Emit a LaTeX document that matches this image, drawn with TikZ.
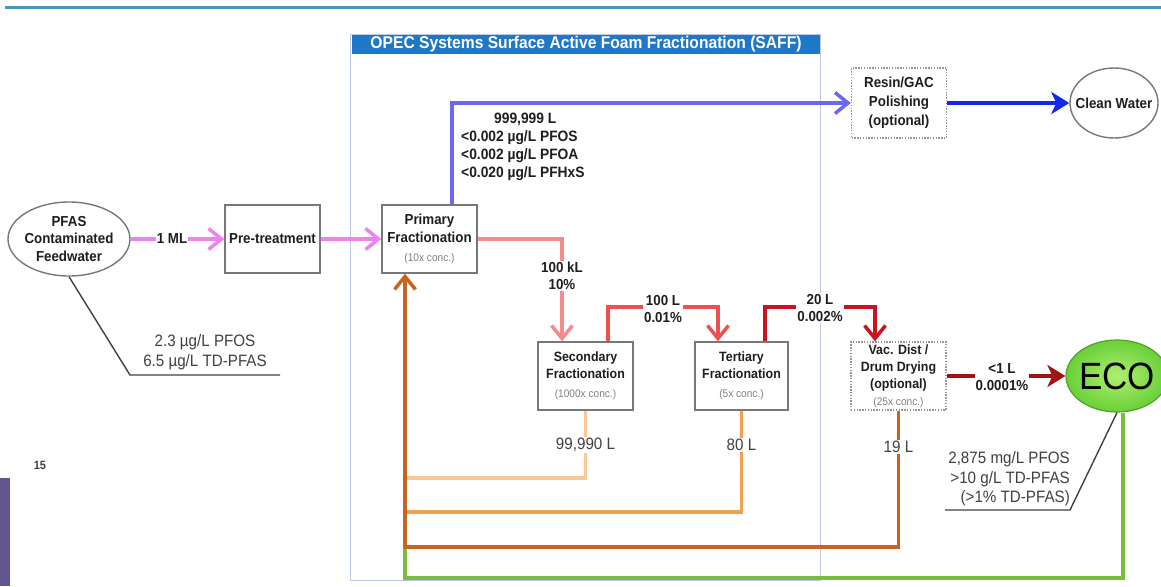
\documentclass[tikz,border=0pt]{standalone}
\usepackage{fontspec}
\setmainfont{Liberation Sans}[FakeStretch=0.92]
\usetikzlibrary{arrows.meta,shapes.geometric,calc}

\definecolor{pinkc}{RGB}{238,130,238}
\definecolor{blueA}{RGB}{105,105,240}
\definecolor{blueB}{RGB}{20,40,230}
\definecolor{salmonc}{RGB}{245,140,140}
\definecolor{redA}{RGB}{238,80,80}
\definecolor{redB}{RGB}{200,20,30}
\definecolor{maroonc}{RGB}{160,20,20}
\definecolor{peachc}{RGB}{250,200,150}
\definecolor{orangeA}{RGB}{240,160,80}
\definecolor{orangeB}{RGB}{200,100,30}
\definecolor{greenA}{RGB}{120,190,60}
\definecolor{ecoin}{RGB}{175,238,115}
\definecolor{ecoout}{RGB}{105,208,55}
\definecolor{ecoline}{RGB}{80,160,40}
\definecolor{titleblue}{RGB}{30,120,200}
\definecolor{frameblue}{RGB}{190,200,230}
\definecolor{tealline}{RGB}{70,150,190}
\definecolor{purplebar}{RGB}{98,84,140}
\definecolor{boxgray}{RGB}{120,120,120}
\definecolor{dotgray}{RGB}{150,150,150}
\definecolor{txtc}{RGB}{30,30,30}
\definecolor{regc}{RGB}{65,65,65}

\newcommand\fBold{\fontsize{14.5}{17.5}\selectfont\bfseries}
\newcommand\fBoxS{\fontsize{13.5}{17}\selectfont\bfseries}
\newcommand\fReg{\fontsize{16.5}{19.5}\selectfont}
\newcommand\fSm{\fontsize{11}{13}\selectfont}
\newcommand\conc[1]{{\fSm\mdseries\color{gray}#1}}

\tikzset{
  procbox/.style={draw=boxgray, line width=1.4pt, minimum width=95pt, minimum height=68pt,
    inner sep=0pt, align=center, text=txtc, font=\fBold},
  dotbox/.style={procbox, draw=dotgray, dash pattern=on 1.4pt off 1.4pt},
  oval/.style={ellipse, draw=boxgray, line width=1.4pt, inner ysep=0pt, align=center,
    text=txtc, font=\fBold},
  flow/.style={line width=3.5pt, -{Straight Barb[length=13pt,width=21pt]}},
  flowfill/.style={line width=4.5pt, -{Stealth[length=18pt,width=22pt,inset=5pt]}},
  ret/.style={line width=3.5pt},
  leader/.style={line width=1.4pt, draw=regc},
  lbl/.style={fill=white, inner sep=1pt, align=center, text=txtc, font=\fBold},
  lblreg/.style={fill=white, inner sep=1pt, align=center, text=regc, font=\fReg},
}

\begin{document}
\begin{tikzpicture}[x=1pt,y=-1pt]
\useasboundingbox (0,0) rectangle (1161,586);
\fill[white] (0,0) rectangle (1161,586);

% slide decorations
\draw[tealline, line width=3pt] (5,8) -- (1161,8);
\fill[purplebar] (0,478) rectangle (10,586);
\node[font=\fontsize{12}{14}\selectfont\bfseries, text=regc] (pagenum) at (40,465) {15};

% SAFF container
\node[draw=frameblue, line width=1pt, minimum width=470pt, minimum height=545pt, inner sep=0pt] (saff) at (585,307.5) {};
\node[fill=titleblue, text=white, minimum width=468pt, minimum height=19pt, inner sep=0pt,
  font=\fontsize{17}{19}\selectfont\bfseries] (safftitle) at (586,44.5) {OPEC Systems Surface Active Foam Fractionation (SAFF)};

% nodes
\node[oval, inner xsep=-2pt, minimum width=122pt, minimum height=74pt] (pfas) at (69,239) {PFAS\\Contaminated\\Feedwater};
\node[procbox] (pre) at (272.5,239) {Pre-treatment};
\node[procbox] (prim) at (429.5,239) {Primary\\Fractionation\\[2pt]\conc{(10x conc.)}};
\node[procbox, font=\fBoxS] (sec) at (585.5,376) {Secondary\\Fractionation\\[2pt]\conc{(1000x conc.)}};
\node[procbox, font=\fBoxS, minimum width=93pt] (ter) at (741.5,376) {Tertiary\\Fractionation\\[2pt]\conc{(5x conc.)}};
\node[dotbox, font=\fBoxS] (vac) at (898.5,376) {Vac. Dist /\\Drum Drying\\(optional)\\\conc{(25x conc.)}};
\node[dotbox, minimum height=70pt, font=\fontsize{14.5}{19}\selectfont\bfseries] (resin) at (899,103) {Resin/GAC\\Polishing\\(optional)};
\node[oval, inner xsep=-8pt, minimum width=88pt, minimum height=70pt] (clean) at (1114,103) {Clean Water};
\node[ellipse, draw=ecoline, line width=1.2pt, inner color=ecoin, outer color=ecoout,
  inner xsep=-8pt, inner ysep=0pt, minimum width=102pt, minimum height=72pt,
  font=\fontsize{38}{40}\selectfont, text=black] (eco) at (1117,376) {ECO};

% helper coordinates
\coordinate (bx) at (452,0);
\coordinate (sx) at (562,0);
\coordinate (rx1) at (608,0);
\coordinate (ry) at (663,307);
\coordinate (rx2) at (718,0);
\coordinate (dx1) at (765,0);
\coordinate (dy) at (820,307);
\coordinate (dx2) at (875,0);
\coordinate (m1) at (405,478);
\coordinate (m2) at (405,512);
\coordinate (m3) at (405,547);
\coordinate (gx) at (1123,0);
\coordinate (g2) at (405,578);
\coordinate (p1) at (130,375);
\coordinate (p2) at (280,375);
\coordinate (e1) at (1070,510);
\coordinate (e2) at (945,510);

% main flow
\draw[flow, pinkc] (pfas.east) -- (pre.west);
\draw[flow, pinkc] (pre.east) -- (prim.west);
\draw[flow, blueA] (prim.north -| bx) |- (resin.west);
\draw[flowfill, blueB] (resin.east) -- (clean.west);
\draw[flow, salmonc] (prim.east) -| (sec.north -| sx);
\draw[flow, redA] (sec.north -| rx1) |- (ry) -| (ter.north -| rx2);
\draw[flow, redB] (ter.north -| dx1) |- (dy) -| (vac.north -| dx2);
\draw[flowfill, maroonc] (vac.east) -- (eco.west);

% returns
\draw[ret, greenA] (eco.south -| gx) |- (g2) -- (m3);
\draw[ret, peachc] (sec.south) |- (m1);
\draw[ret, orangeA] (ter.south) |- (m2);
\draw[flow, orangeB] (vac.south) |- (m3) -- (prim.south -| m3);

% leaders
\draw[leader] (pfas.south) -- (p1) -- (p2);
\draw[leader] (eco.south) -- (e1) -- (e2);

% labels
\node[lbl] (l1ml) at (172,239) {1 ML};
\node[lbl, anchor=west, align=left, fill=none, font=\fontsize{15}{18}\selectfont\bfseries] (lclean) at (460,147)
  {\hspace*{33pt}999,999 L\\<0.002 µg/L PFOS\\<0.002 µg/L PFOA\\<0.020 µg/L PFHxS};
\node[lbl] (l100kl) at (562,276) {100 kL\\10\%};
\node[lbl] (l100l) at (663,309) {100 L\\0.01\%};
\node[lbl] (l20l) at (820,308) {20 L\\0.002\%};
\node[lbl] (l1l) at (1002,377) {<1 L\\0.0001\%};
\node[lblreg] (l99990) at (585.5,445) {99,990 L};
\node[lblreg] (l80) at (741.5,445) {80 L};
\node[lblreg] (l19) at (898.5,447) {19 L};
\node[lblreg, fill=none] (lfeed) at (205,352) {2.3 µg/L PFOS\\6.5 µg/L TD-PFAS};
\node[lblreg, fill=none, anchor=east, align=right] (leco) at (1071,479) {2,875 mg/L PFOS\\>10 g/L TD-PFAS\\(>1\% TD-PFAS)};
\end{tikzpicture}
\end{document}
